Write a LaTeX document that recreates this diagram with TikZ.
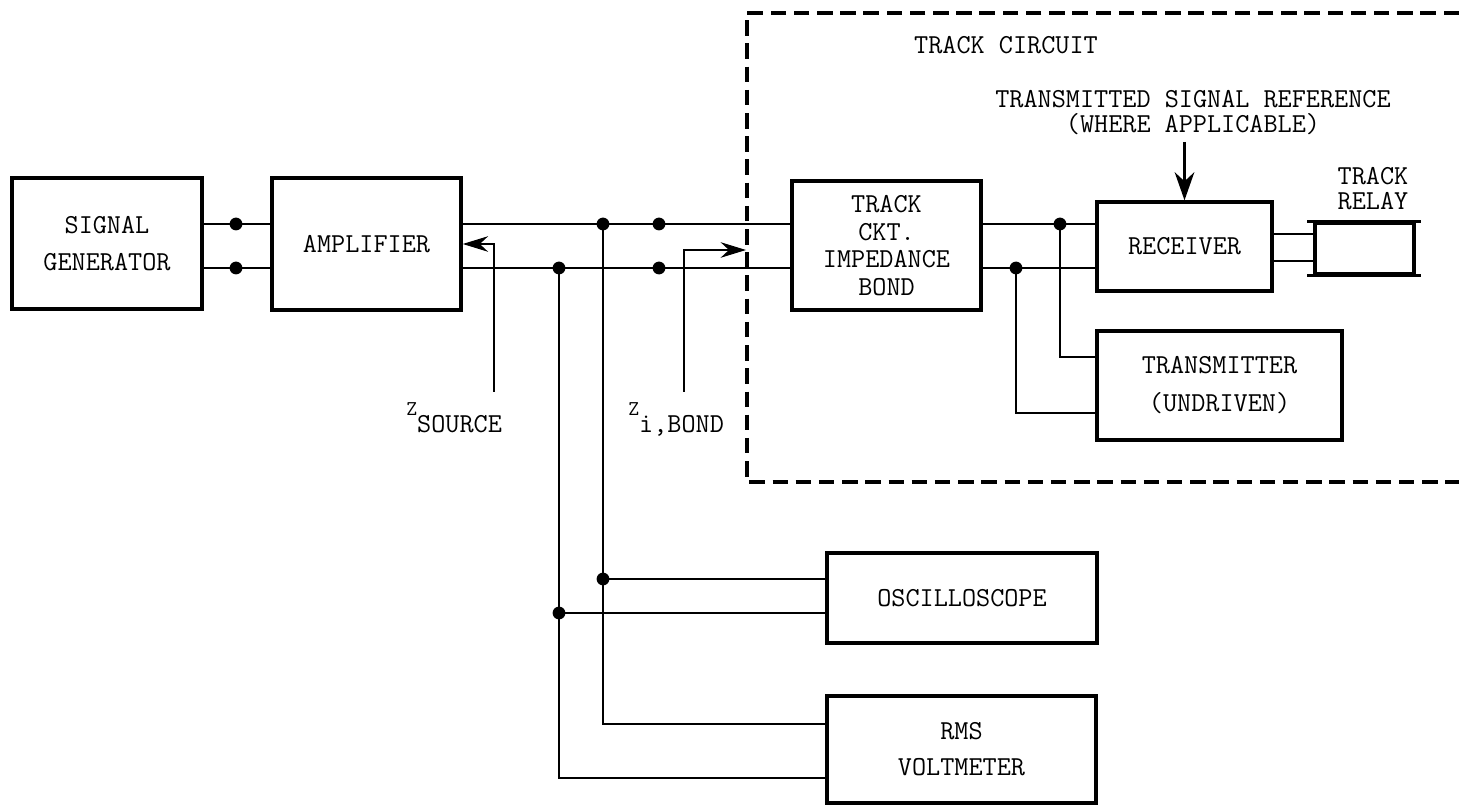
\documentclass[tikz,border=0pt]{standalone}
\usepackage{fontspec}
\usetikzlibrary{arrows.meta}

\tikzset{
	blk/.style={draw, line width=2.4pt, align=center, inner sep=0pt, font=\ttfamily\fontsize{19.5}{17}\selectfont},
	wire/.style={line width=1.5pt},
	lbl/.style={inner sep=0pt, align=center, font=\ttfamily\fontsize{19.5}{17}\selectfont},
	trackbox/.style={line width=2.2pt, dash pattern=on 11pt off 5.5pt},
	zarrow/.style={wire, -{Stealth[length=18pt, width=11pt]}},
	refarrow/.style={wire, -{Stealth[length=20pt, width=14pt]}}
}

\begin{document}
\begin{tikzpicture}[x=0.025cm, y=-0.025cm]
			\useasboundingbox (0,0) rectangle (1459,806);
			\draw[trackbox] (1459,13) -- (747,13) -- (747,482) -- (1459,482);
			\node[lbl] (tclbl) at (1006,45) {TRACK CIRCUIT};
			\node[blk, minimum width=4.75cm, minimum height=3.275cm] (siggen) at (107,243.5) {SIGNAL\\[9pt]GENERATOR};
			\node[blk, minimum width=4.725cm, minimum height=3.3cm] (amp) at (366.5,244) {AMPLIFIER};
			\node[blk, minimum width=4.725cm, minimum height=3.225cm] (bond) at (886.5,245.5) {TRACK\\[2.5pt]CKT.\\[2.5pt]IMPEDANCE\\[2.5pt]BOND};
			\node[blk, minimum width=4.375cm, minimum height=2.225cm] (receiver) at (1184.5,246.5) {RECEIVER};
			\node[blk, minimum width=2.475cm, minimum height=1.275cm] (relay) at (1364.5,248.5) {};
			\node[blk, minimum width=6.125cm, minimum height=2.725cm] (transmitter) at (1219.5,385.5) {TRANSMITTER\\[10pt](UNDRIVEN)};
			\node[blk, minimum width=6.75cm, minimum height=2.25cm] (osc) at (962,598) {OSCILLOSCOPE};
			\node[blk, minimum width=6.725cm, minimum height=2.675cm] (rms) at (961.5,749.5) {RMS\\[8.5pt]VOLTMETER};
			\node[lbl] (treflbl) at (1193,112.5) {TRANSMITTED SIGNAL REFERENCE\\[1pt](WHERE APPLICABLE)};
			\node[lbl] (relaylbl) at (1373,188.5) {TRACK\\[1pt]RELAY};
			\node[lbl, anchor=base west] (zsrclbl) at (406,432) {\raisebox{12pt}{\fontsize{15}{15}\selectfont Z}SOURCE};
			\node[lbl, anchor=base west] (zbondlbl) at (628,432) {\raisebox{12pt}{\fontsize{15}{15}\selectfont Z}i,BOND};
			\coordinate (gA) at (236,224);
			\coordinate (gB) at (236,268);
			\coordinate (oT) at (603,224);
			\coordinate (mT) at (659,224);
			\coordinate (oB) at (559,268);
			\coordinate (mB) at (659,268);
			\coordinate (sT) at (603,579);
			\coordinate (sB) at (559,613);
			\coordinate (rmT) at (603,724);
			\coordinate (rmB) at (559,778);
			\coordinate (rT) at (1060,224);
			\coordinate (rB) at (1016,268);
			\coordinate (tT) at (1060,357);
			\coordinate (tB) at (1016,413);
			\coordinate (qT) at (1294,234);
			\coordinate (qB) at (1294,261);
			\coordinate (zsrc) at (494,392);
			\coordinate (zsk) at (494,244);
			\coordinate (zbd) at (684,392);
			\coordinate (zbk) at (684,250);
			\coordinate (zbtip) at (746,250);
			\coordinate (tref) at (1184.5,142);
			\draw[wire] (siggen.east |- gA) -- (amp.west |- gA);
			\draw[wire] (siggen.east |- gB) -- (amp.west |- gB);
			\draw[wire] (amp.east |- oT) -- (bond.west |- oT);
			\draw[wire] (amp.east |- oB) -- (bond.west |- oB);
			\draw[wire] (oT) -- (rmT) -- (rmT -| rms.west);
			\draw[wire] (oB) -- (rmB) -- (rmB -| rms.west);
			\draw[wire] (sT) -- (sT -| osc.west);
			\draw[wire] (sB) -- (sB -| osc.west);
			\draw[wire] (bond.east |- rT) -- (receiver.west |- rT);
			\draw[wire] (bond.east |- rB) -- (receiver.west |- rB);
			\draw[wire] (rT) -- (tT) -- (tT -| transmitter.west);
			\draw[wire] (rB) -- (tB) -- (tB -| transmitter.west);
			\draw[wire] (receiver.east |- qT) -- (relay.west |- qT);
			\draw[wire] (receiver.east |- qB) -- (relay.west |- qB);
			\draw[line width=2.4pt] (relay.north west) ++(-6,0) -- ++(114,0);
			\draw[line width=2.4pt] (relay.south west) ++(-6,0) -- ++(114,0);
			\draw[zarrow] (zsrc) -- (zsk) -- (amp.east |- zsk);
			\draw[zarrow] (zbd) -- (zbk) -- (zbtip);
			\draw[refarrow] (tref) -- (receiver.north);
			\foreach \p in {gA,gB,oT,mT,oB,mB,sT,sB,rT,rB}
				\fill (\p) circle[radius=0.16cm];
	\end{tikzpicture}
\end{document}
